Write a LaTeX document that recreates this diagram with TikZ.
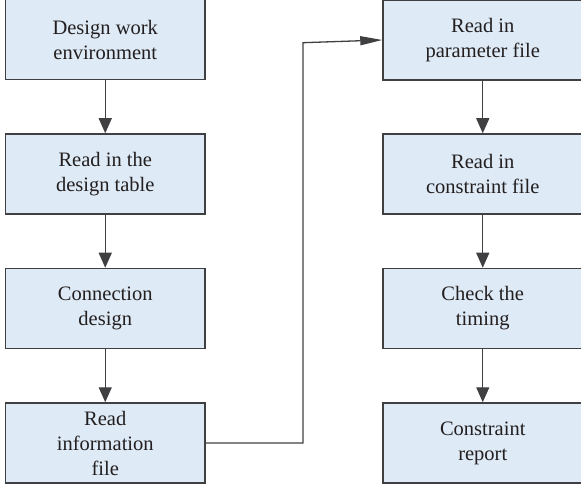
\documentclass[tikz,border=0pt]{standalone}
\usepackage{fontspec}
\setmainfont{Liberation Serif}
\usetikzlibrary{arrows.meta}
\definecolor{boxfill}{RGB}{222,234,245}
\definecolor{boxline}{RGB}{64,64,66}
\definecolor{txt}{RGB}{35,31,32}
\begin{document}
\begin{tikzpicture}[x=1pt,y=1pt,
  stepbox/.style={draw=boxline, line width=1.5pt, fill=boxfill,
    minimum width=199.5pt, minimum height=80pt, inner sep=0pt,
    align=center, text=txt, font=\fontsize{20.5}{25}\selectfont},
  flow/.style={draw=boxline, line width=1.3pt,
    -{Triangle[length=15pt,width=13pt]}},
  flowh/.style={draw=boxline, line width=1.3pt,
    -{Triangle[length=22pt,width=9pt]}}]
\useasboundingbox (0,0) rectangle (581,485);
\clip (0,0) rectangle (581,485);
\node[stepbox] (l1) at (105.25,445.5) {Design work\\environment};
\node[stepbox] (l2) at (105.25,311) {Read in the\\design table};
\node[stepbox] (l3) at (105.25,176.5) {Connection\\design};
\node[stepbox] (l4) at (105.25,42) {Read\\information\\file};
\node[stepbox] (r1) at (482.75,445) {Read in\\parameter file};
\node[stepbox] (r2) at (482.75,311) {Read in\\constraint file};
\node[stepbox] (r3) at (482.75,176.5) {Check the\\timing};
\node[stepbox] (r4) at (482.75,42) {Constraint\\report};
\draw[flow] (l1) -- (l2);
\draw[flow] (l2) -- (l3);
\draw[flow] (l3) -- (l4);
\draw[flow] (r1) -- (r2);
\draw[flow] (r2) -- (r3);
\draw[flow] (r3) -- (r4);
\coordinate (k) at (303,442.3);
\draw[flowh] (l4.east) -| (k) -- (r1.west);
\end{tikzpicture}
\end{document}
